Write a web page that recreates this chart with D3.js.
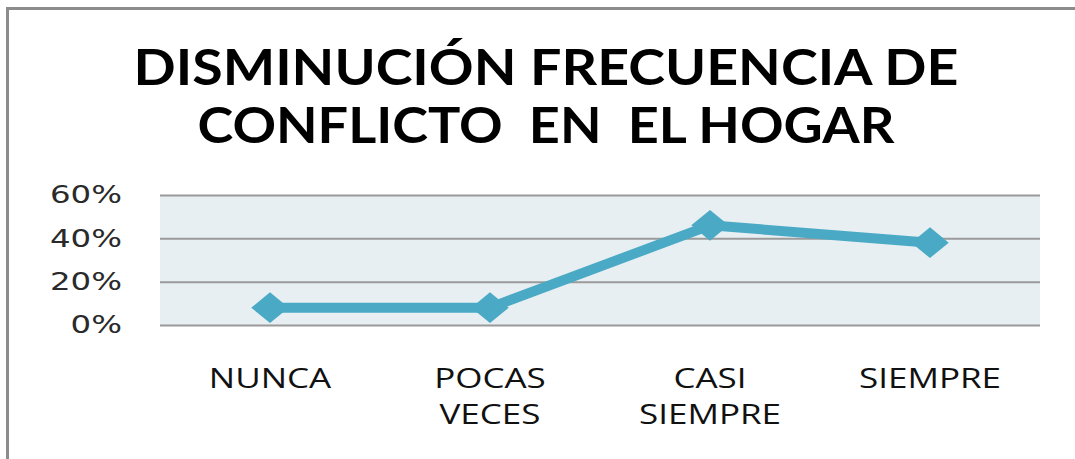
<!DOCTYPE html>
<html>
<head>
<meta charset="utf-8">
<script src="https://cdn.jsdelivr.net/npm/d3@7"></script>
<style>
  html, body { margin: 0; padding: 0; background: #fff; }
  svg { display: block; }
</style>
</head>
<body>
<svg id="chart" width="1075" height="459"></svg>
<script>
const categories = [['NUNCA'], ['POCAS', 'VECES'], ['CASI', 'SIEMPRE'], ['SIEMPRE']];
const values = [0.08, 0.08, 0.46, 0.38];
const yTicks = [0, 0.2, 0.4, 0.6];
const titleLines = ['DISMINUCIÓN FRECUENCIA DE', 'CONFLICTO  EN  EL HOGAR'];

const width = 1075, height = 459;
const margin = { top: 195, right: 35, bottom: 134, left: 160 };

const svg = d3.select('#chart');

// the source picture is stretched sideways, so widen text to match
function stretch(sel, factor) {
  sel.each(function () {
    const w = this.getComputedTextLength();
    d3.select(this)
      .attr('textLength', w * factor)
      .attr('lengthAdjust', 'spacingAndGlyphs');
  });
}

// frame (top + left only, like the cropped source)
svg.append('line')
  .attr('x1', 7).attr('x2', width).attr('y1', 8.5).attr('y2', 8.5)
  .attr('stroke', '#8c8c8c').attr('stroke-width', 3);
svg.append('line')
  .attr('x1', 7.5).attr('x2', 7.5).attr('y1', 7).attr('y2', height)
  .attr('stroke', '#8c8c8c').attr('stroke-width', 3);

// title
const title = svg.append('g')
  .selectAll('text')
  .data(titleLines)
  .enter()
  .append('text')
  .attr('text-anchor', 'middle')
  .attr('font-family', 'Lato, "Open Sans", sans-serif')
  .attr('font-weight', 'bold')
  .attr('font-size', 50)
  .attr('fill', '#000')
  .attr('x', 546)
  .attr('y', (d, i) => 85 + i * 58)
  .style('white-space', 'pre')
  .text(d => d);
title.each(function (d, i) {
  const target = [825, 697][i];
  d3.select(this).attr('textLength', target).attr('lengthAdjust', 'spacingAndGlyphs');
});

const x = d3.scaleBand()
  .domain(categories.map(d => d.join(' ')))
  .range([margin.left, width - margin.right]);

const y = d3.scaleLinear()
  .domain([0, 0.6])
  .range([height - margin.bottom, margin.top]);

// plot background
svg.append('rect')
  .attr('x', margin.left)
  .attr('y', margin.top)
  .attr('width', width - margin.right - margin.left)
  .attr('height', height - margin.bottom - margin.top)
  .attr('fill', '#e8eff3');

// gridlines + y labels
const yAxis = svg.append('g')
  .attr('transform', `translate(${margin.left},0)`)
  .call(d3.axisLeft(y)
    .tickValues(yTicks)
    .tickFormat(d3.format('.0%'))
    .tickSize(-(width - margin.right - margin.left))
    .tickPadding(38));
yAxis.select('.domain').remove();
yAxis.selectAll('.tick line')
  .attr('stroke', '#9a9a9a')
  .attr('stroke-width', 2);
yAxis.selectAll('.tick text')
  .attr('font-family', '"DejaVu Sans", Verdana, sans-serif')
  .attr('font-size', 24)
  .attr('fill', '#2a2a2a')
  .call(stretch, 1.35);

// x labels
const xLab = svg.append('g')
  .selectAll('text')
  .data(categories)
  .enter()
  .append('text')
  .attr('text-anchor', 'middle')
  .attr('font-family', '"Open Sans", sans-serif')
  .attr('font-size', 28)
  .attr('fill', '#111');
xLab.selectAll('tspan')
  .data(d => d.map(t => ({ t, key: d.join(' ') })))
  .enter()
  .append('tspan')
  .attr('x', d => x(d.key) + x.bandwidth() / 2)
  .attr('y', (d, i) => 388 + i * 36)
  .text(d => d.t)
  .call(stretch, 1.25);

// line
const points = categories.map((c, i) => ({ key: c.join(' '), v: values[i] }));
const line = d3.line()
  .x(d => x(d.key) + x.bandwidth() / 2)
  .y(d => y(d.v));

svg.append('path')
  .datum(points)
  .attr('d', line)
  .attr('fill', 'none')
  .attr('stroke', '#4aaac5')
  .attr('stroke-width', 10)
  .attr('stroke-linejoin', 'round');

svg.append('g')
  .selectAll('path')
  .data(points)
  .enter()
  .append('path')
  .attr('d', d3.symbol().type(d3.symbolSquare).size(560))
  .attr('transform', d => `translate(${x(d.key) + x.bandwidth() / 2},${y(d.v)}) scale(1.12,0.92) rotate(45)`)
  .attr('fill', '#4aaac5');
</script>
</body>
</html>
